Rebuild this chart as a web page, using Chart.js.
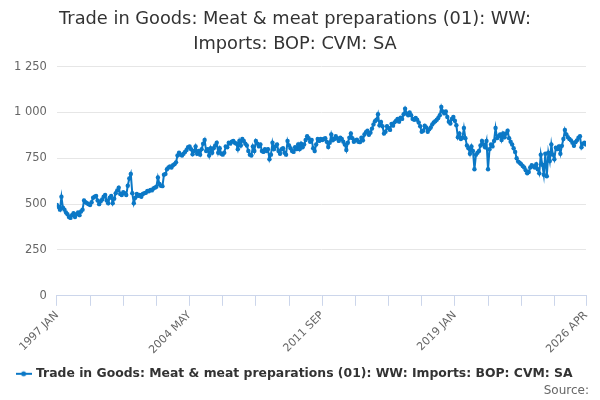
<!DOCTYPE html>
<html>
<head>
<meta charset="utf-8">
<script src="https://cdn.jsdelivr.net/npm/chart.js@4"></script>
<style>
  html, body { margin: 0; padding: 0; background: #fff; }
  #wrap { width: 600px; height: 400px; position: relative; }
</style>
</head>
<body>
<div id="wrap"><canvas id="meatChart"></canvas></div>
<script>
/* ======================
   DATA
====================== */

const startYear = 1997;
const monthNames = ["JAN", "FEB", "MAR", "APR", "MAY", "JUN", "JUL", "AUG", "SEP", "OCT", "NOV", "DEC"];

// monthly imports, 1997 JAN .. 2026 APR
const imports = [
  495, 485, 470, 540, 480, 470, 455, 445, 430, 425, 440, 450,
  430, 445, 455, 440, 460, 470, 520, 510, 505, 500, 495, 510,
  535, 540, 545, 520, 500, 515, 525, 540, 550, 520, 505, 535,
  545, 505, 530, 560, 575, 590, 555, 550, 565, 560, 550, 600,
  640, 665, 560, 505, 535, 555, 545, 550, 540, 555, 560, 562,
  572, 570, 578, 575, 585, 590, 595, 645, 610, 600, 598, 660,
  665, 690, 700, 705, 700, 712, 718, 728, 765, 780, 770, 765,
  775, 785, 795, 810, 815, 800, 772, 790, 815, 775, 790, 770,
  800, 830, 850, 790, 800, 765, 805, 780, 805, 820, 835, 780,
  805, 775, 770, 780, 815, 810, 835, 830, 840, 845, 835, 830,
  800, 845, 820, 855, 845, 830, 820, 790, 770, 765, 815, 790,
  845, 830, 815, 825, 790, 785, 800, 790, 800, 745, 770, 835,
  800, 815, 825, 790, 775, 800, 805, 780, 770, 845, 820, 805,
  790, 785, 810, 800, 825, 800, 830, 810, 825, 850, 870, 860,
  840, 850, 805, 790, 825, 855, 845, 855, 850, 855, 860, 840,
  812, 835, 880, 848, 855, 870, 858, 845, 862, 855, 840, 825,
  795, 835, 862, 885, 860, 840, 848, 852, 840, 838, 862, 848,
  880, 892, 900, 878, 890, 912, 935, 952, 960, 990, 930, 948,
  925, 885, 895, 925, 915, 905, 938, 928, 946, 955, 965, 950,
  972, 965, 990, 1020, 995, 985, 1000, 985, 965, 960, 970, 960,
  945, 925, 895, 900, 928, 918, 895, 908, 918, 935, 945, 952,
  960, 970, 985, 1030, 1005, 995, 1005, 975, 950, 940, 965, 975,
  955, 930, 865, 885, 855, 862, 915, 860, 820, 805, 775, 815,
  790, 690, 770, 780, 790, 820, 845, 825, 810, 845, 690, 800,
  825, 815, 845, 915, 860, 870, 880, 850, 885, 865, 885, 900,
  860, 840, 825, 805, 785, 750, 732, 726, 718, 708, 700, 685,
  668, 675, 700, 712, 705, 700, 718, 690, 668, 770, 715, 660,
  775, 652, 780, 735, 825, 770, 745, 808, 800, 815, 775, 818,
  855, 905, 880, 865, 855, 848, 835, 818, 838, 848, 862, 870,
  810, 830, 835, 825
];

// one label per month
const months = imports.map((_, i) =>
  (startYear + Math.floor(i / 12)) + " " + monthNames[i % 12]
);

// x axis: tick marks every 22 months, labels every 88 + the last month
const xTickStep = 22;
const xLabelEvery = 88;

const yTicks = [0, 250, 500, 750, 1000, 1250];

const seriesName = "Trade in Goods: Meat & meat preparations (01): WW: Imports: BOP: CVM: SA";
const titleLines = [
  "Trade in Goods: Meat & meat preparations (01): WW:",
  "Imports: BOP: CVM: SA"
];

const blue = "#0b78c6";

/* ======================
   LEGEND SYMBOL
====================== */

const sym = document.createElement("canvas");
sym.width = 16;
sym.height = 8;
const sctx = sym.getContext("2d");
sctx.strokeStyle = blue;
sctx.lineWidth = 2;
sctx.beginPath();
sctx.moveTo(0, 4);
sctx.lineTo(16, 4);
sctx.stroke();
sctx.fillStyle = blue;
sctx.beginPath();
sctx.arc(8, 4, 2.5, 0, Math.PI * 2);
sctx.fill();

/* ======================
   SOURCE NOTE
====================== */

const sourceNote = {
  id: "sourceNote",
  afterDraw(chart) {
    const c = chart.ctx;
    c.save();
    c.font = "12px 'DejaVu Sans'";
    c.fillStyle = "#666";
    c.textAlign = "right";
    c.textBaseline = "alphabetic";
    c.fillText("Source:", 589, 394);
    c.restore();
  }
};

/* ======================
   LINE CHART
====================== */

const ctx = document.getElementById("meatChart").getContext("2d");

new Chart(ctx, {
  type: "line",
  data: {
    datasets: [{
      label: seriesName,
      data: imports.map((v, i) => ({ x: i, y: v })),
      borderColor: blue,
      backgroundColor: blue,
      borderWidth: 2,
      pointStyle: "circle",
      pointRadius: 2.2,
      pointBackgroundColor: blue,
      pointBorderWidth: 0,
      tension: 0
    }]
  },
  options: {
    responsive: true,
    maintainAspectRatio: false,
    animation: false,
    layout: { padding: { left: 4, right: 14, top: 4, bottom: 10 } },
    plugins: {
      title: {
        display: true,
        text: titleLines,
        color: "#333",
        font: { family: "'DejaVu Sans'", size: 17.8, weight: "normal", lineHeight: 1.45 },
        padding: { top: 2, bottom: 9 }
      },
      legend: {
        position: "bottom",
        labels: {
          usePointStyle: true,
          pointStyle: sym,
          color: "#333",
          font: { family: "'DejaVu Sans'", size: 12.4, weight: "bold" },
          padding: 8
        }
      },
      tooltip: {
        callbacks: {
          title: items => months[items[0].parsed.x]
        }
      }
    },
    scales: {
      x: {
        type: "linear",
        min: 0,
        max: imports.length - 1,
        afterBuildTicks: axis => {
          const t = [];
          for (let v = 0; v < imports.length - 1; v += xTickStep) t.push({ value: v });
          t.push({ value: imports.length - 1 });
          axis.ticks = t;
        },
        grid: {
          drawOnChartArea: false,
          drawTicks: true,
          tickLength: 10,
          color: "#ccd6eb"
        },
        border: { color: "#ccd6eb" },
        ticks: {
          minRotation: 45,
          maxRotation: 45,
          autoSkip: false,
          color: "#666",
          font: { family: "'DejaVu Sans'", size: 11 },
          callback: v => (v % xLabelEvery === 0 || v === imports.length - 1) ? months[v] : ""
        }
      },
      y: {
        min: 0,
        max: 1250,
        afterBuildTicks: axis => { axis.ticks = yTicks.map(v => ({ value: v })); },
        grid: { color: "#e6e6e6", drawTicks: false },
        border: { display: false },
        ticks: {
          color: "#666",
          padding: 10,
          font: { family: "'DejaVu Sans'", size: 11.5 },
          callback: v => v >= 1000 ? Math.floor(v / 1000) + " " + String(v % 1000).padStart(3, "0") : String(v)
        }
      }
    }
  },
  plugins: [sourceNote]
});
</script>
</body>
</html>
